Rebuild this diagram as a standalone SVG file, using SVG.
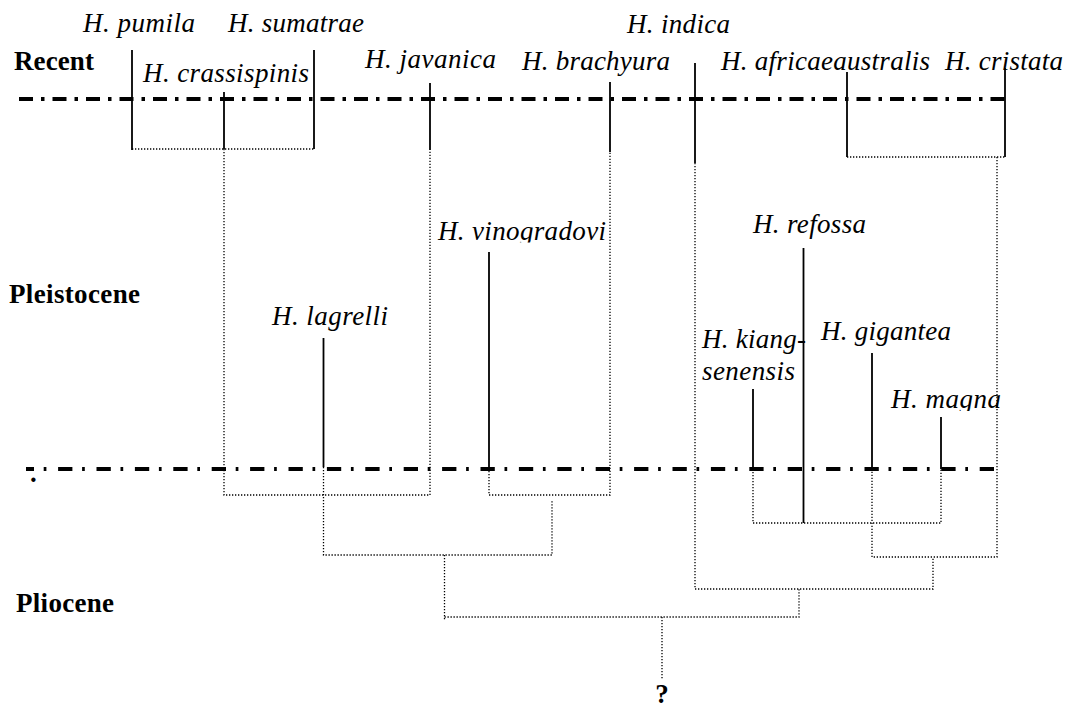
<svg xmlns="http://www.w3.org/2000/svg" width="1075" height="709" viewBox="0 0 1075 709">
<style>
.sp{font-family:"Liberation Serif","Times New Roman",serif;font-style:italic;font-size:27px;fill:#000}
.era{font-family:"Liberation Serif","Times New Roman",serif;font-weight:bold;font-size:27px;fill:#000}
.br{stroke:#000;stroke-width:1.8;fill:none}
.dot{stroke:#000;stroke-width:1.3;stroke-dasharray:1.3 1.7;fill:none}
.axis{stroke:#000;stroke-width:4;fill:none}
</style>
<defs>
<clipPath id="clipVino"><rect x="430" y="200" width="200" height="42.5"/></clipPath>
<clipPath id="clipMagna"><rect x="880" y="370" width="140" height="41"/></clipPath>
</defs>
<rect width="1075" height="709" fill="#fff"/>

<g id="time-lines">
<line class="axis" x1="19" y1="99" x2="1008" y2="99" stroke-dasharray="14 8 3.5 8"/>
<line class="axis" x1="26" y1="469" x2="995" y2="469" stroke-dasharray="14.3 9.7 2.7 11.7" stroke-dashoffset="6.3"/>
<text class="era" x="30" y="482" font-size="20">.</text>
</g>

<g id="eras">
<text class="era" x="14" y="70" textLength="80">Recent</text>
<text class="era" x="9" y="303" textLength="131">Pleistocene</text>
<text class="era" x="16" y="612" textLength="98">Pliocene</text>
<text class="era" x="662" y="703" text-anchor="middle" font-size="25">?</text>
</g>

<g id="connectors">
<polyline class="dot" points="132,149 314,149"/>
<polyline class="dot" points="224,149 224,495 430,495 430,150"/>
<polyline class="dot" points="489,468 489,495 610,495 610,152"/>
<polyline class="dot" points="323.5,467 323.5,555 552,555 552,501"/>
<polyline class="dot" points="444.5,555 444.5,621"/>
<polyline class="dot" points="444.5,617 799,617 799,589"/>
<polyline class="dot" points="662,617 662,680"/>
<polyline class="dot" points="847,157 1005,157"/>
<polyline class="dot" points="997,157 997,557 872,557 872,469"/>
<polyline class="dot" points="695,163 695,589 933,589 933,557"/>
<polyline class="dot" points="753,469 753,523 941,523 941,469"/>
</g>

<g id="pumila"><text class="sp" x="83" y="32" textLength="112">H. pumila</text><line class="br" x1="132" y1="50" x2="132" y2="150"/></g>
<g id="sumatrae"><text class="sp" x="228" y="32" textLength="136">H. sumatrae</text><line class="br" x1="314" y1="50" x2="314" y2="149"/></g>
<g id="crassispinis"><text class="sp" x="143" y="82" textLength="166">H. crassispinis</text><line class="br" x1="224" y1="92" x2="224" y2="149"/></g>
<g id="javanica"><text class="sp" x="365" y="68" textLength="131">H. javanica</text><line class="br" x1="430" y1="83" x2="430" y2="150"/></g>
<g id="brachyura"><text class="sp" x="522" y="70" textLength="148">H. brachyura</text><line class="br" x1="610" y1="82" x2="610" y2="152"/></g>
<g id="indica"><text class="sp" x="627" y="33" textLength="103">H. indica</text><line class="br" x1="695" y1="63" x2="695" y2="163"/></g>
<g id="africaeaustralis"><text class="sp" x="721" y="70" textLength="209">H. africaeaustralis</text><line class="br" x1="847" y1="72" x2="847" y2="157"/></g>
<g id="cristata"><text class="sp" x="945" y="70" textLength="118">H. cristata</text><line class="br" x1="1005" y1="68" x2="1005" y2="157"/></g>
<g id="lagrelli"><text class="sp" x="272" y="325" textLength="116">H. lagrelli</text><line class="br" x1="323.5" y1="338" x2="323.5" y2="467"/></g>
<g id="vinogradovi"><text class="sp" x="438" y="240" textLength="168" clip-path="url(#clipVino)">H. vinogradovi</text><line class="br" x1="489" y1="252" x2="489" y2="468"/></g>
<g id="refossa"><text class="sp" x="753" y="233" textLength="113">H. refossa</text><line class="br" x1="803.5" y1="248" x2="803.5" y2="523"/></g>
<g id="kiangsenensis"><text class="sp" x="702" y="348" textLength="104">H. kiang-</text><text class="sp" x="702" y="380" textLength="93">senensis</text><line class="br" x1="753" y1="389" x2="753" y2="469"/></g>
<g id="gigantea"><text class="sp" x="821" y="340" textLength="130">H. gigantea</text><line class="br" x1="872" y1="353" x2="872" y2="469"/></g>
<g id="magna"><text class="sp" x="891" y="408" textLength="110" clip-path="url(#clipMagna)">H. magna</text><line class="br" x1="941" y1="417" x2="941" y2="469"/></g>
</svg>
